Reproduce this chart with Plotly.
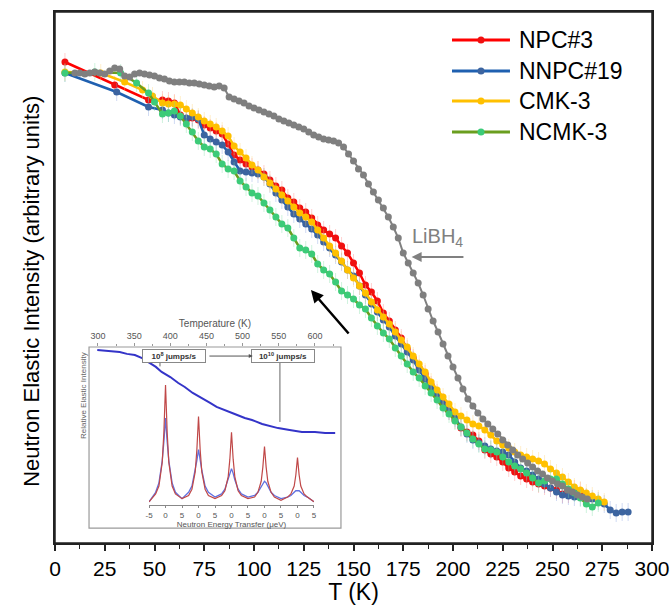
import plotly.graph_objects as go

# ---------------- main data (T in K, intensity in arbitrary units) ----------------
T_grid = [54, 57, 60, 63, 66, 69, 72, 75, 78, 81, 84, 87, 90, 93, 96, 99, 102, 105, 108, 111,
          114, 117, 120, 123, 126, 129, 132, 135, 138, 141, 144, 147, 150, 153, 156, 159, 162, 165,
          168, 171, 174, 177, 180, 183, 186, 189, 192, 195, 198, 201, 204, 207, 210, 213, 216, 219,
          222, 225, 228, 231, 234, 237, 240, 243, 246, 249, 252, 255, 258, 261, 264, 267, 270, 273,
          276, 279, 282, 285]

npc3_T_early = [5, 30, 47]
npc3_I_early = [481, 458, 443]
npc3_I_dense = [443, 442, 440, 428, 423, 425, 423, 418, 415, 412, 409, 399, 388, 383, 379, 376, 373,
                369, 363, 357, 353, 345, 341, 335, 331, 325, 318, 313, 309, 305, 297, 290, 280, 270,
                258, 251, 242, 230, 222, 213, 205, 194, 185, 175, 169, 158, 150, 141, 132, 123, 115,
                111, 108, 102, 93, 89, 86, 81, 75, 71, 67, 64, 61, 59, 57, 55, 53, 49, 49, 54, 52]

nnpc19_T_early = [5, 31, 47]
nnpc19_I_early = [470, 451, 436]
nnpc19_I_dense = [433, 430, 428, 426, 425, 426, 424, 408, 404, 401, 398, 391, 381, 372, 371, 370, 369,
                  366, 359, 350, 343, 336, 329, 324, 319, 314, 308, 301, 295, 288, 281, 273, 267, 257,
                  248, 239, 231, 223, 216, 207, 199, 191, 183, 173, 164, 156, 147, 139, 132, 125, 116,
                  109, 103, 100, 97, 94, 92, 91, 88, 81, 75, 72, 68, 64, 59, 55, 51, 48, 47, 46, 46,
                  46, 44, 42, 39, 33, 30, 31]
nnpc19_T_last = [288]
nnpc19_I_last = [31]

cmk3_T_early = [5, 23, 35, 44, 49]
cmk3_I_early = [471, 470, 461, 453, 447]
cmk3_I_dense = [440, 439, 439, 438, 434, 430, 426, 422, 419, 416, 412, 407, 397, 391, 385, 378, 373,
                366, 360, 354, 348, 342, 336, 330, 326, 321, 313, 305, 297, 290, 282, 273, 265, 257,
                250, 241, 233, 226, 219, 211, 203, 196, 187, 179, 171, 161, 153, 146, 139, 131, 127,
                123, 119, 117, 113, 108, 102, 98, 95, 91, 88, 86, 84, 82, 79, 74, 70, 66, 61, 56, 53,
                50, 47, 44, 41]

ncmk3_T_early = [5, 20, 33, 41, 47, 50]
ncmk3_I_early = [470, 471, 470, 460, 450, 441]
ncmk3_I_dense = [429, 430, 432, 427, 419, 411, 402, 396, 394, 389, 379, 374, 372, 362, 356, 350, 347,
                 340, 333, 326, 319, 315, 305, 295, 293, 289, 279, 273, 269, 261, 252, 248, 244, 238,
                 234, 225, 217, 210, 204, 195, 187, 179, 171, 165, 157, 150, 143, 135, 129, 122, 116,
                 110, 104, 99, 94, 93, 91, 86, 81, 77, 74, 70, 65, 60, 62, 64, 64, 59, 54, 50, 45, 39,
                 36, 40]

libh4_T = [10, 12.5, 15, 17.5, 20, 22.5, 25, 27.5, 30, 32.5, 35, 37.5, 40, 42.5, 45, 47.5, 50, 52.5,
           55, 57.5, 60, 62.5, 65, 67.5, 70, 72.5, 75, 77.5, 80, 82.5, 85, 87.5, 90, 92.5, 95, 97.5,
           100, 102.5, 105, 107.5, 110, 112.5, 115, 117.5, 120, 122.5, 125, 127.5, 130, 132.5, 135,
           137.5, 140, 142.5, 145, 147.5, 150, 152.5, 155, 157.5, 160, 162.5, 165, 167.5, 170, 172.5,
           175, 177.5, 180, 182.5, 185, 187.5, 190, 192.5, 195, 197.5, 200, 202.5, 205, 207.5, 210,
           212.5, 215, 217.5, 220, 222.5, 225, 227.5, 230, 232.5, 235, 237.5, 240, 242.5, 245, 247.5,
           250, 252.5, 255, 257.5, 260, 262.5, 265, 267.5]
libh4_I = [470, 470, 469, 470, 471, 470, 469, 472, 475, 474, 467, 466, 469, 470, 469, 468, 467, 465,
           464, 462, 461, 461, 461, 460, 460, 459, 458, 457, 456, 457, 455, 446, 444, 442, 440, 437,
           435, 433, 431, 429, 427, 424, 422, 420, 418, 416, 414, 411, 408, 406, 404, 403, 402, 400,
           396, 389, 382, 374, 368, 359, 351, 343, 335, 326, 316, 305, 290, 280, 270, 260, 248, 234,
           222, 211, 199, 187, 176, 165, 154, 144, 137, 130, 124, 119, 114, 109, 103, 98, 93, 88, 84,
           80, 76, 72, 69, 65, 62, 59, 57, 53, 51, 48, 46, 44]

x_ticks = [0, 25, 50, 75, 100, 125, 150, 175, 200, 225, 250, 275, 300]

# ---------------- inset data ----------------
inset_T = [299, 310, 321, 330, 340, 351, 361, 370, 380, 388, 400, 411, 420, 431, 444, 455, 464, 476,
           489, 503, 513, 527, 538, 549, 565, 582, 600, 614, 628]
inset_I = [0.983, 0.980, 0.978, 0.972, 0.962, 0.956, 0.939, 0.917, 0.890, 0.862, 0.834, 0.801, 0.779,
           0.746, 0.718, 0.691, 0.669, 0.652, 0.630, 0.608, 0.597, 0.575, 0.564, 0.552, 0.541, 0.530,
           0.530, 0.525, 0.525]
inset_T_ticks = [300, 350, 400, 450, 500, 550, 600]

energy_x = [-5, -3, -2, -1, -0.5, 0, 0.5, 1, 2, 3, 5, 7, 8, 9, 9.5, 10, 10.5, 11, 12, 13, 15,
            17, 18, 19, 19.5, 20, 20.5, 21, 22, 23, 25, 27, 28, 29, 29.5, 30, 30.5, 31, 32, 33, 35,
            37, 38, 39, 39.5, 40, 40.5, 41, 42, 43, 45]
peaks_red = [0.02, 0.07, 0.12, 0.27, 0.46, 0.76, 0.46, 0.27, 0.12, 0.07, 0.04,
             0.06, 0.10, 0.21, 0.35, 0.56, 0.35, 0.21, 0.10, 0.06, 0.04,
             0.06, 0.09, 0.18, 0.29, 0.46, 0.29, 0.18, 0.09, 0.06, 0.04,
             0.05, 0.08, 0.15, 0.24, 0.37, 0.24, 0.15, 0.08, 0.05, 0.03,
             0.05, 0.07, 0.12, 0.19, 0.30, 0.19, 0.12, 0.07, 0.05, 0.02]
peaks_blue = [0.02, 0.08, 0.14, 0.28, 0.40, 0.55, 0.40, 0.28, 0.14, 0.08, 0.04,
              0.08, 0.12, 0.22, 0.28, 0.35, 0.28, 0.22, 0.12, 0.08, 0.05,
              0.07, 0.10, 0.16, 0.20, 0.23, 0.20, 0.16, 0.10, 0.07, 0.05,
              0.06, 0.08, 0.12, 0.14, 0.15, 0.14, 0.12, 0.08, 0.06, 0.04,
              0.05, 0.06, 0.08, 0.09, 0.09, 0.09, 0.08, 0.06, 0.05, 0.02]
energy_ticks = [-5, 0, 5, 10, 15, 20, 25, 30, 35, 40, 45]
energy_ticktext = ["-5", "0", "5", "0", "5", "0", "5", "0", "5", "0", "5"]

# ---------------- build figure ----------------
fig = go.Figure()

series = [
    ("NPC#3", npc3_T_early + T_grid[:len(npc3_I_dense)], npc3_I_early + npc3_I_dense,
     "#FF0000", "#F01010", "rgba(255,120,120,0.35)"),
    ("NNPC#19", nnpc19_T_early + T_grid[:len(nnpc19_I_dense)] + nnpc19_T_last,
     nnpc19_I_early + nnpc19_I_dense + nnpc19_I_last,
     "#1F60B0", "#3C64A0", "rgba(120,150,220,0.35)"),
    ("CMK-3", cmk3_T_early + T_grid[:len(cmk3_I_dense)], cmk3_I_early + cmk3_I_dense,
     "#FFC000", "#FFC000", "rgba(255,210,110,0.35)"),
    ("NCMK-3", ncmk3_T_early + T_grid[:len(ncmk3_I_dense)], ncmk3_I_early + ncmk3_I_dense,
     "#6A9E1F", "#3CCB78", "rgba(120,220,160,0.35)"),
]
for name, tx, iy, lc, mc, ec in series:
    fig.add_trace(go.Scatter(
        x=tx, y=iy, name=name, mode="lines+markers", showlegend=False,
        line=dict(color=lc, width=2.5),
        marker=dict(color=mc, size=7),
        error_y=dict(type="constant", value=9, color=ec, thickness=1, width=0),
        xaxis="x", yaxis="y"))

fig.add_trace(go.Scatter(
    x=libh4_T, y=libh4_I, name="LiBH4", mode="lines+markers", showlegend=False,
    line=dict(color="#808080", width=2), marker=dict(color="#7F7F7F", size=7),
    xaxis="x", yaxis="y"))

# inset traces
fig.add_trace(go.Scatter(x=inset_T, y=inset_I, mode="lines", showlegend=False,
                         line=dict(color="#3434C8", width=2), xaxis="x2", yaxis="y2"))
fig.add_trace(go.Scatter(x=energy_x, y=peaks_blue, mode="lines", showlegend=False,
                         line=dict(color="#6070E0", width=1.3), xaxis="x3", yaxis="y3"))
fig.add_trace(go.Scatter(x=energy_x, y=peaks_red, mode="lines", showlegend=False,
                         line=dict(color="#C04848", width=1.2), xaxis="x3", yaxis="y3"))

inset_x = [0.057, 0.479]
inset_y = [0.0282, 0.3691]

fig.update_layout(
    width=671, height=605,
    margin=dict(l=55, r=19, t=12, b=62, autoexpand=False),
    paper_bgcolor="white", plot_bgcolor="rgba(0,0,0,0)",
    font=dict(family="Liberation Sans, Arial, sans-serif", color="black"),
    showlegend=False,
    xaxis=dict(domain=[0, 1], range=[0, 300], tickvals=x_ticks, ticks="outside", ticklen=6,
               tickwidth=1.5, tickcolor="#222", linecolor="#222", linewidth=1.5, mirror=True,
               showgrid=False, zeroline=False, tickfont=dict(size=21), automargin=False,
               title=dict(text="T (K)", font=dict(size=23), standoff=2),
               minor=dict(dtick=12.5, tick0=0, ticks="outside", ticklen=4, tickwidth=1.2,
                          tickcolor="#222", showgrid=False)),
    yaxis=dict(domain=[0, 1], range=[0, 531], showticklabels=False, ticks="", automargin=False,
               linecolor="#222", linewidth=1.5, mirror=True, showgrid=False, zeroline=False),
    xaxis2=dict(domain=inset_x, anchor="y2", side="top", range=[287.6, 636], automargin=False,
                tickvals=inset_T_ticks, tickfont=dict(size=9, color="#555"),
                ticks="outside", ticklen=3, tickcolor="#999", showline=False, showgrid=False,
                zeroline=False,
                title=dict(text="Temperature (K)", font=dict(size=10, color="#555"), standoff=1),
                minor=dict(dtick=25, tick0=300, ticks="outside", ticklen=2, tickcolor="#999")),
    yaxis2=dict(domain=inset_y, anchor="x2", range=[0, 1], visible=False, automargin=False),
    xaxis3=dict(domain=[0.1575, 0.4338], anchor="y3", range=[-5, 45], automargin=False,
                tickvals=energy_ticks, ticktext=energy_ticktext,
                tickfont=dict(size=8, color="#555"), ticks="outside", ticklen=2, tickcolor="#888",
                showline=True, linecolor="#888", linewidth=1, showgrid=False, zeroline=False,
                title=dict(text="Neutron Energy Transfer (μeV)", font=dict(size=8, color="#555"),
                           standoff=0)),
    yaxis3=dict(domain=[0.0716, 0.3691], anchor="x3", range=[0, 1], visible=False,
                automargin=False),
)

shapes = [
    # main frame
    dict(type="rect", xref="paper", yref="paper", x0=0, x1=1, y0=0, y1=1,
         line=dict(color="#222", width=1.5), layer="below"),
    # inset frame
    dict(type="rect", xref="paper", yref="paper", x0=inset_x[0], x1=inset_x[1],
         y0=inset_y[0], y1=inset_y[1], line=dict(color="#9A9A9A", width=1.2),
         fillcolor="white", layer="below"),
    # vertical markers from the jump-rate boxes
    dict(type="line", xref="x2", yref="y2", x0=551.6, x1=551.6, y0=0.917, y1=0.586,
         line=dict(color="#666", width=1)),
    dict(type="line", xref="x2", yref="y2", x0=385.7, x1=385.7, y0=0.917, y1=0.893,
         line=dict(color="#666", width=1)),
]

annotations = [
    # y-axis title
    dict(text="Neutron Elastic Intensity (arbitrary units)", xref="paper", yref="paper",
         x=-0.0385, y=0.473, textangle=-90, showarrow=False, font=dict(size=22),
         xanchor="center", yanchor="middle"),
    # LiBH4 label and arrow
    dict(text="LiBH<sub>4</sub>", xref="x", yref="y", x=178.2, y=306, xanchor="left",
         yanchor="middle", showarrow=False, font=dict(size=20, color="#808080")),
    dict(text="", xref="x", yref="y", x=179.2, y=286, axref="x", ayref="y", ax=206, ay=286,
         showarrow=True, arrowhead=2, arrowsize=1, arrowwidth=2, arrowcolor="#808080"),
    # black arrow
    dict(text="", xref="x", yref="y", x=128.6, y=253, axref="x", ayref="y", ax=148.2, ay=208,
         showarrow=True, arrowhead=2, arrowsize=1, arrowwidth=2.5, arrowcolor="black"),
    # inset texts
    dict(text="Relative Elastic Intensity", xref="paper", yref="paper", x=0.0369, y=0.192,
         textangle=-90, showarrow=False, font=dict(size=8, color="#666")),
    dict(text="<b>10<sup>8</sup> jumps/s</b>", xref="x2", yref="y2", x=405, y=0.950,
         showarrow=False, font=dict(size=8, color="#333"), bgcolor="white",
         bordercolor="#888", borderwidth=1, borderpad=1, width=60),
    dict(text="<b>10<sup>10</sup> jumps/s</b>", xref="x2", yref="y2", x=556, y=0.950,
         showarrow=False, font=dict(size=8, color="#333"), bgcolor="white",
         bordercolor="#888", borderwidth=1, borderpad=1, width=60),
    dict(text="", xref="x2", yref="y2", x=514, y=0.950, axref="x2", ayref="y2", ax=452,
         ay=0.950, showarrow=True, arrowhead=2, arrowsize=0.8, arrowwidth=1, arrowcolor="#555"),
]

# manual legend (long line samples with a centred marker)
legend_rows = [0.9473, 0.8889, 0.8324, 0.7740]
for (name, _tx, _iy, lc, mc, _ec), ly in zip(series, legend_rows):
    shapes.append(dict(type="line", xref="paper", yref="paper", x0=0.665, x1=0.7621,
                       y0=ly, y1=ly, line=dict(color=lc, width=3)))
    shapes.append(dict(type="circle", xref="paper", yref="paper", x0=0.7136 - 0.0059,
                       x1=0.7136 + 0.0059, y0=ly - 0.0066, y1=ly + 0.0066,
                       fillcolor=mc, line=dict(color=mc, width=0)))
    annotations.append(dict(text=name, xref="paper", yref="paper", x=0.7739, y=ly,
                            xanchor="left", yanchor="middle", showarrow=False,
                            font=dict(size=23, color="black")))

fig.update_layout(shapes=shapes, annotations=annotations)

fig.write_html("out.html", config={"displayModeBar": False},
               post_script="document.body.style.margin='0px';")
